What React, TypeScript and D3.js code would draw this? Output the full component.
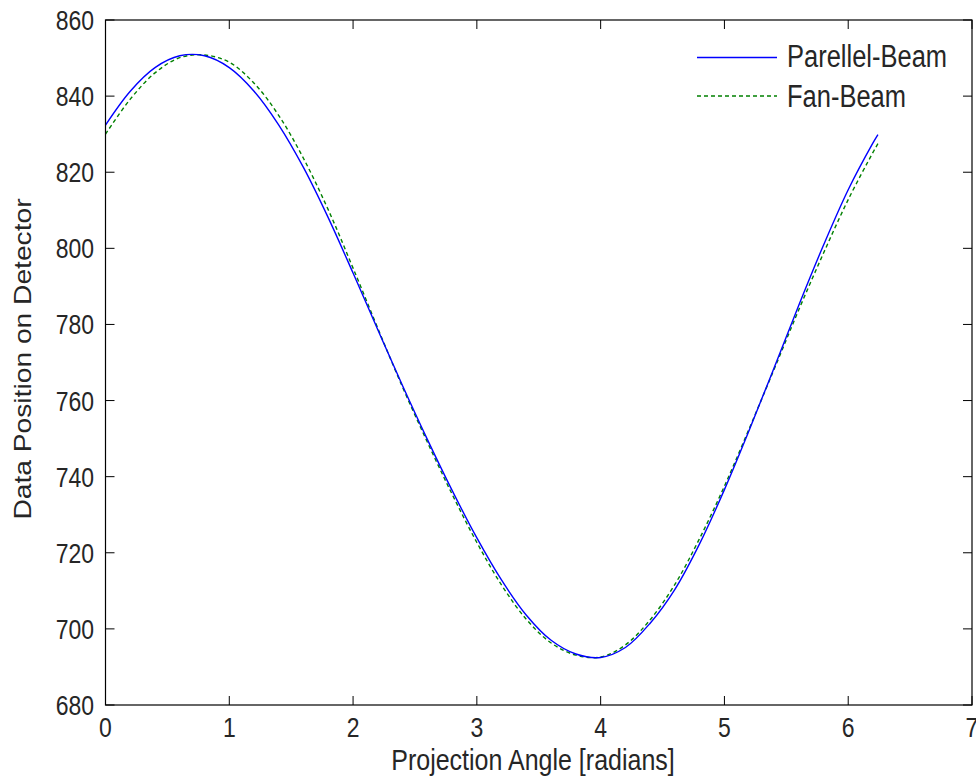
import React from "react";
import * as d3 from "d3";

const angles = [0, 0.2, 0.4, 0.6, 0.8, 1.0, 1.2, 1.4, 1.6, 1.8, 2.0, 2.2, 2.4, 2.6, 2.8, 3.0, 3.2, 3.4, 3.6, 3.8, 4.0, 4.2, 4.4, 4.6, 4.8, 5.0, 5.2, 5.4, 5.6, 5.8, 6.0, 6.2, 6.24];
const parallelBeam = [832.4, 841.3, 847.5, 850.6, 850.6, 847.5, 841.3, 832.4, 821.2, 808.0, 793.5, 778.6, 763.9, 749.8, 736.4, 723.9, 712.8, 703.6, 697.0, 693.4, 692.5, 695.1, 701.5, 710.4, 722.4, 736.6, 752.2, 768.5, 785.0, 800.8, 815.4, 827.7, 829.9];
const fanBeam = [830.0, 839.2, 846.1, 850.1, 850.8, 848.9, 843.4, 834.9, 823.6, 810.1, 794.8, 779.0, 763.5, 749.1, 735.4, 722.7, 711.5, 702.5, 696.3, 693.1, 692.6, 695.8, 702.4, 711.7, 723.8, 737.5, 752.6, 768.1, 783.8, 798.7, 812.8, 825.2, 827.5];
const xTicks = [0, 1, 2, 3, 4, 5, 6, 7];
const yTicks = [680, 700, 720, 740, 760, 780, 800, 820, 840, 860];
const seriesNames = ["Parellel-Beam", "Fan-Beam"];

const W = 976, H = 776;
const L = 105.5, R = 972, T = 20, B = 705;
const FONT = "'Liberation Sans', Arial, sans-serif";
const TXT = "#262626";
const SY = 1.2;

export default function App() {
  const x = d3.scaleLinear().domain([0, 7]).range([L, R]);
  const y = d3.scaleLinear().domain([680, 860]).range([B, T]);
  const line = d3
    .line<[number, number]>()
    .x((d) => x(d[0]))
    .y((d) => y(d[1]))
    .curve(d3.curveCatmullRom.alpha(0.5));
  const pData = angles.map((a, i) => [a, parallelBeam[i]] as [number, number]);
  const fData = angles.map((a, i) => [a, fanBeam[i]] as [number, number]);

  return (
    <svg width={W} height={H} style={{ position: "absolute", left: 0, top: 0, background: "#fff" }}>
      <rect x={0} y={0} width={W} height={H} fill="#fff" />
      <path d={line(fData) || ""} fill="none" stroke="#008000" strokeWidth={1.4} strokeDasharray="4,3" />
      <path d={line(pData) || ""} fill="none" stroke="#0000ff" strokeWidth={1.4} />
      <rect x={L} y={T} width={R - L} height={B - T} fill="none" stroke="#000" strokeWidth={1.2} />
      {xTicks.map((t) => (
        <g key={"x" + t}>
          <line x1={x(t)} x2={x(t)} y1={B} y2={B - 9} stroke="#000" strokeWidth={1} />
          <line x1={x(t)} x2={x(t)} y1={T} y2={T + 9} stroke="#000" strokeWidth={1} />
          <text
            transform={`translate(${x(t)},737) scale(1,${SY})`}
            textAnchor="middle"
            fontFamily={FONT}
            fontSize={23}
            fill={TXT}
          >
            {t}
          </text>
        </g>
      ))}
      {yTicks.map((t) => (
        <g key={"y" + t}>
          <line x1={L} x2={L + 9} y1={y(t)} y2={y(t)} stroke="#000" strokeWidth={1} />
          <line x1={R} x2={R - 9} y1={y(t)} y2={y(t)} stroke="#000" strokeWidth={1} />
          <text
            transform={`translate(94,${y(t) + 10}) scale(1,${SY})`}
            textAnchor="end"
            fontFamily={FONT}
            fontSize={23}
            fill={TXT}
          >
            {t}
          </text>
        </g>
      ))}
      <text
        transform={`translate(533,770) scale(1,${SY})`}
        textAnchor="middle"
        fontFamily={FONT}
        fontSize={25}
        fill={TXT}
      >
        Projection Angle [radians]
      </text>
      <text
        transform={`translate(31,359) scale(1,${SY}) rotate(-90)`}
        textAnchor="middle"
        fontFamily={FONT}
        fontSize={23.5}
        fill={TXT}
      >
        Data Position on Detector
      </text>
      <line x1={697} x2={777} y1={57.5} y2={57.5} stroke="#0000ff" strokeWidth={1.4} />
      <text transform={`translate(787,67) scale(1,${SY})`} fontFamily={FONT} fontSize={25.5} fill={TXT}>
        {seriesNames[0]}
      </text>
      <line x1={697} x2={777} y1={96} y2={96} stroke="#008000" strokeWidth={1.4} strokeDasharray="4,3" />
      <text transform={`translate(787,107) scale(1,${SY})`} fontFamily={FONT} fontSize={25.5} fill={TXT}>
        {seriesNames[1]}
      </text>
    </svg>
  );
}
